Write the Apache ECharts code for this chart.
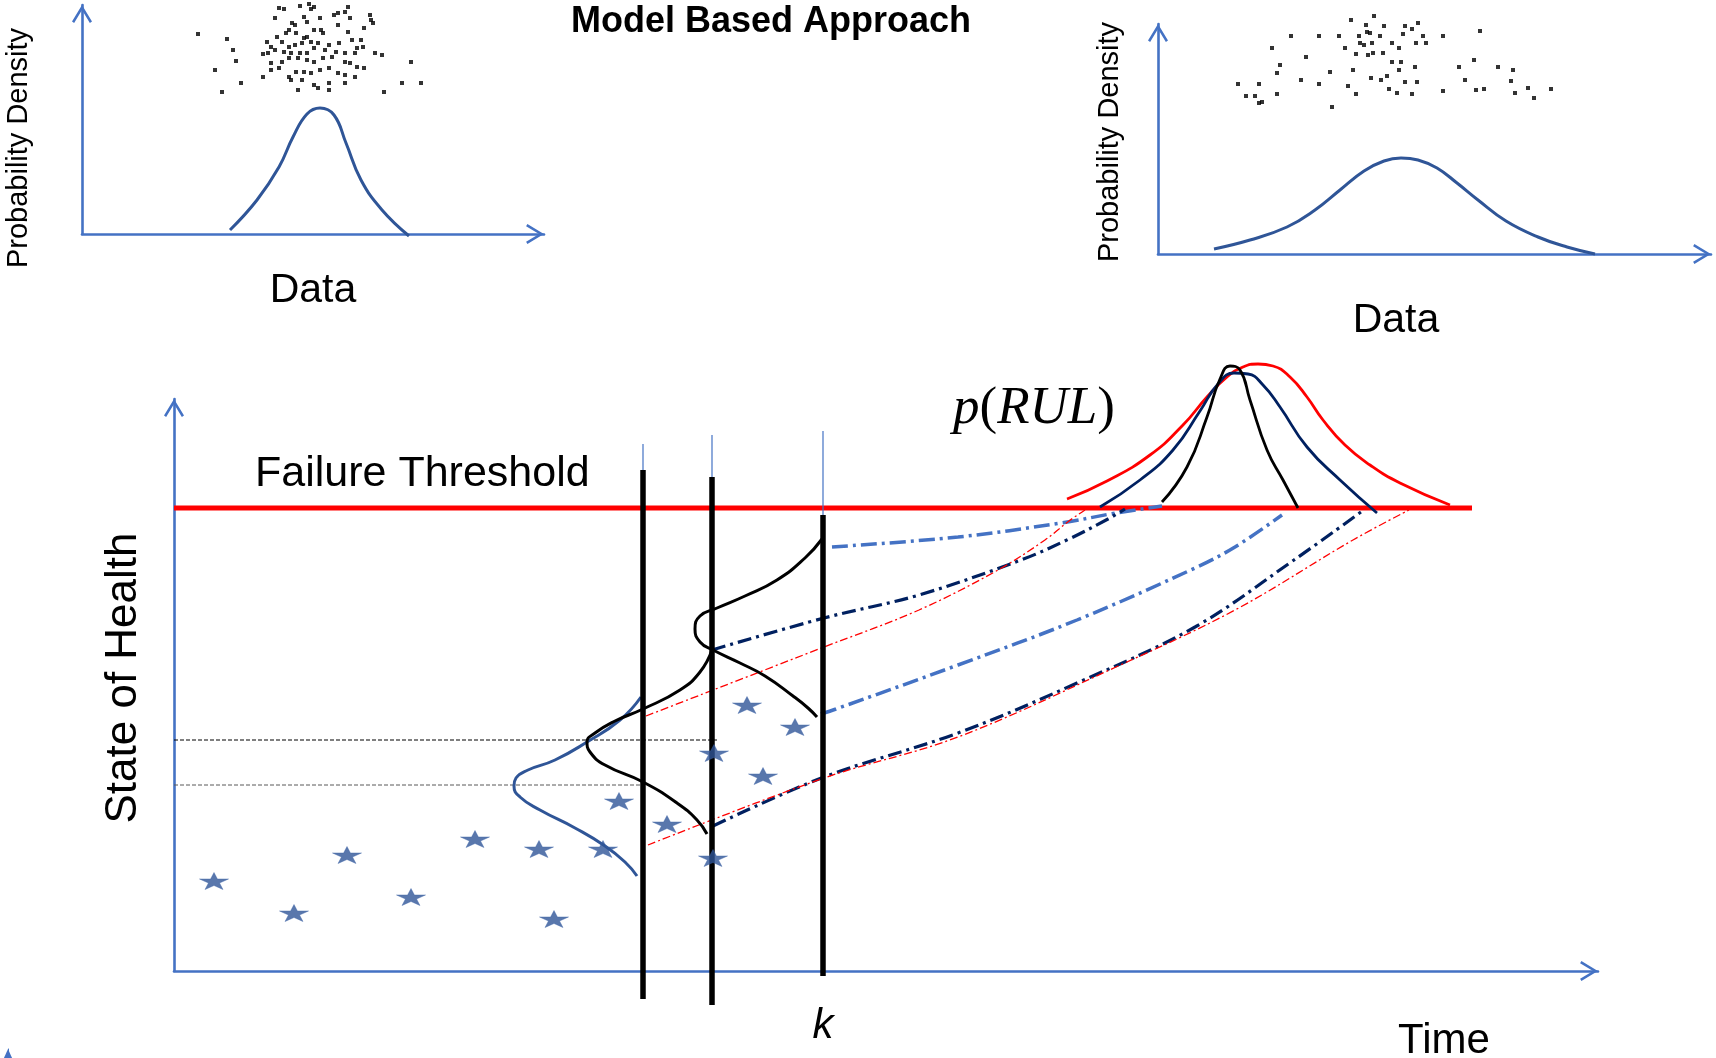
<!DOCTYPE html>
<html><head><meta charset="utf-8">
<script src="https://cdn.jsdelivr.net/npm/echarts@6/dist/echarts.min.js"></script>
<style>html,body{margin:0;padding:0;background:#fff}#c{width:1716px;height:1058px}</style>
</head><body><div id="c"></div>
<script>
// ---------- top-left panel (narrow distribution) ----------
const tlCurve = [[14.8,0.4],[17.5,3.4],[19.7,6.7],[21.1,9.7],[22.5,12.0],[23.8,12.6],[25.2,11.9],[26.4,9.1],[27.9,5.4],[30.0,2.4],[32.7,-0.2]];
const tlDots = [[11.6,20.0],[14.5,19.5],[15.1,18.4],[15.4,17.3],[13.3,16.4],[14.0,14.2],[15.9,15.1],[18.1,15.7],[18.5,19.2],[19.3,21.6],[19.7,22.6],[20.2,22.5],[20.7,20.4],[21.0,21.1],[21.3,20.9],[21.8,22.8],[22.7,23.0],[22.9,22.5],[23.2,22.7],[22.2,21.7],[22.5,21.2],[23.8,21.6],[25.2,21.9],[25.6,22.1],[26.3,22.2],[26.6,22.7],[26.8,21.6],[28.8,21.9],[28.9,21.4],[29.1,21.1],[28.2,20.6],[26.6,20.2],[25.6,20.9],[23.9,20.4],[24.1,20.1],[23.2,20.4],[22.5,19.7],[22.2,19.6],[21.4,20.1],[20.4,20.1],[19.5,19.7],[18.9,18.7],[20.0,19.2],[20.7,18.7],[21.3,18.9],[22.0,19.1],[22.9,19.2],[23.6,19.1],[24.7,18.9],[25.7,19.1],[27.0,19.4],[27.9,19.4],[28.1,18.7],[27.5,18.6],[27.3,18.1],[26.3,18.1],[25.4,18.2],[24.3,18.4],[23.2,18.6],[22.5,18.1],[21.8,18.1],[20.9,18.1],[20.2,18.2],[19.3,18.4],[18.6,18.1],[18.1,18.0],[18.9,17.1],[20.0,17.2],[20.7,17.6],[21.6,17.6],[22.5,17.4],[23.2,17.2],[24.1,17.6],[25.0,17.7],[26.3,17.2],[26.8,17.1],[27.5,16.7],[28.2,16.6],[27.3,15.7],[26.3,15.9],[25.6,16.1],[24.7,16.6],[23.8,16.4],[22.9,16.1],[22.2,16.2],[21.4,16.2],[20.7,15.7],[20.9,15.4],[22.0,15.4],[23.2,14.9],[23.6,14.6],[24.7,14.4],[24.7,15.1],[26.3,15.1],[21.6,14.4],[29.3,18.1],[30.0,17.9],[32.9,17.2],[30.2,14.2],[32.0,15.1],[33.9,15.1],[18.9,16.4],[19.7,16.6]];

// ---------- top-right panel (wide distribution) ----------
const trCurve = [[5.6,0.5],[9.2,1.4],[12.9,2.7],[15.7,4.4],[18.2,6.4],[20.6,8.3],[22.6,9.3],[24.3,9.6],[26.0,9.4],[27.9,8.6],[29.9,7.1],[32.0,5.4],[34.8,3.3],[38.0,1.7],[40.9,0.7],[43.7,0.0]];
const trDots = [[8.0,17.0],[8.8,15.8],[10.1,17.0],[9.7,15.8],[10.1,15.1],[10.4,15.2],[11.4,20.6],[11.9,16.0],[11.9,18.1],[12.2,18.9],[13.3,21.8],[14.3,17.4],[14.8,19.7],[16.1,21.8],[16.1,17.0],[17.2,18.2],[17.4,14.7],[18.1,21.8],[18.7,20.6],[19.0,16.8],[19.3,23.4],[19.5,18.4],[19.8,16.0],[20.1,21.8],[20.2,21.1],[20.6,20.9],[20.8,22.9],[20.9,22.2],[21.2,22.1],[21.0,19.9],[21.3,17.6],[21.5,20.1],[21.6,23.8],[22.2,21.8],[22.3,17.4],[22.5,20.1],[22.6,22.8],[22.9,17.8],[23.1,16.5],[23.4,21.1],[23.9,16.1],[24.1,18.4],[24.1,20.6],[24.5,22.0],[24.7,22.8],[24.3,19.2],[24.7,17.2],[25.4,22.5],[25.4,16.0],[25.7,18.7],[25.8,21.1],[26.0,23.1],[25.9,17.2],[26.5,21.8],[26.8,21.1],[28.5,21.8],[28.5,16.3],[30.1,18.7],[30.7,17.4],[31.6,19.4],[31.8,16.4],[32.2,22.3],[32.6,16.5],[34.0,18.7],[35.3,17.3],[35.5,18.4],[35.7,16.1],[37.0,16.6],[37.6,15.6],[39.3,16.5],[19.8,20.0],[21.4,21.1],[23.4,19.2]];

// ---------- main panel: state of health vs time ----------
const thresholdLevel = 46.3;
const thresholdSpan = [0, 129.8];
const measureTimes = [46.9, 53.8, 64.9];
const measureTop = [50.1, 49.4, 45.6];
const measureBottom = [-2.8, -3.4, -0.5];
const markerTop = [52.7, 53.6, 54.0];
const pdfLevels = [23.1, 18.6];
const pdfLevelEnds = [54.3, 46.9];

const stars = [[4.0,9.0],[12.0,5.8],[17.3,11.6],[23.7,7.4],[30.1,13.2],[36.5,12.2],[38.0,5.2],[42.9,12.2],[44.5,17.0],[49.3,14.7],[53.9,11.3],[54.0,21.8],[57.3,26.6],[58.9,19.5],[62.1,24.4]];

const pdfA = [[46.7,27.4],[44.6,25.1],[41.3,22.9],[38.1,21.1],[35.4,20.1],[34.2,19.3],[34.0,18.5],[34.6,17.4],[36.6,16.1],[40.1,14.3],[43.1,12.5],[45.1,10.9],[46.3,9.5]];
const pdfB = [[53.8,32.1],[52.6,29.9],[50.6,28.1],[46.9,26.2],[44.1,25.0],[42.1,23.8],[41.3,22.9],[41.6,21.9],[43.1,20.6],[46.9,18.9],[50.3,16.8],[52.3,15.1],[53.3,13.7]];
const pdfC = [[64.8,43.2],[63.1,41.3],[60.3,39.1],[57.1,37.5],[54.3,36.3],[52.6,35.5],[52.1,34.2],[52.6,32.9],[53.9,32.1],[56.6,30.8],[59.1,29.5],[61.9,27.5],[63.4,26.3],[64.3,25.4]];

const rulRed = [[89.3,47.2],[93.3,49.0],[97.6,51.6],[100.9,54.6],[103.3,57.4],[105.3,59.4],[106.9,60.4],[108.4,60.7],[109.9,60.5],[111.6,59.4],[113.3,57.4],[114.9,55.1],[117.1,52.6],[119.6,50.6],[122.6,48.8],[127.6,46.6]];
const rulNavy = [[92.6,46.4],[96.6,49.1],[99.9,52.1],[102.6,56.0],[104.4,58.7],[106.0,59.8],[107.4,59.7],[108.9,58.6],[110.6,56.4],[113.3,52.4],[116.6,49.1],[120.3,45.8]];
const rulBlack = [[98.8,46.9],[101.3,50.4],[103.3,55.4],[104.6,59.2],[105.6,60.5],[106.6,60.1],[107.6,57.1],[109.3,52.1],[110.9,49.1],[112.4,46.3]];

const traj1 = [[65.8,42.4],[78.4,43.4],[88.7,44.8],[94.2,45.8],[98.8,46.5]];
const traj2 = [[53.8,32.1],[65.0,35.3],[74.5,37.6],[84.7,41.1],[89.5,43.2],[93.4,45.2],[95.1,46.2]];
const traj3 = [[47.2,25.5],[65.0,32.4],[74.5,36.1],[82.4,40.1],[87.1,43.1],[89.5,45.0],[91.1,46.1]];
const traj4 = [[64.7,25.7],[66.2,26.2],[78.4,30.6],[90.3,35.1],[102.1,40.3],[106.1,42.4],[110.8,45.6]];
const traj5 = [[53.9,14.5],[65.0,19.4],[78.4,23.8],[90.3,28.8],[102.1,34.4],[112.0,41.1],[118.7,45.9]];
const traj6 = [[47.4,12.6],[65.0,19.3],[78.4,23.4],[94.2,30.4],[106.1,36.1],[117.9,43.1],[123.5,46.1]];

// ---------- styling ----------
const AX = '#4472C4';
const arrowPath = 'path://M0,16.5L10,0L20,16.5L17.86,17.8L10,4.83L2.14,17.8Z';
const starPath = 'path://M50,0L61.23,34.55L97.55,34.55L68.16,55.9L79.39,90.45L50,69.1L20.61,90.45L31.84,55.9L2.45,34.55L38.77,34.55Z';
const SANS = 'Liberation Sans';

function axis(gridIndex, max) {
  return {
    type: 'value', gridIndex: gridIndex, min: 0, max: max,
    axisLine: { show: true, onZero: true, symbol: ['none', arrowPath], symbolSize: [20, 18], symbolOffset: [0, -9],
      lineStyle: { color: AX, width: 2.6 } },
    axisTick: { show: false }, axisLabel: { show: false }, splitLine: { show: false }
  };
}
function line(data, gi, color, width, type, smooth, z) {
  return { type: 'line', xAxisIndex: gi, yAxisIndex: gi, data: data, showSymbol: false, symbol: 'none',
    smooth: smooth, clip: false, z: z, silent: true, animation: false,
    lineStyle: { color: color, width: width, type: type || 'solid', cap: 'butt' } };
}

const series = [];
// top panels
series.push({ type: 'scatter', xAxisIndex: 0, yAxisIndex: 0, data: tlDots, symbol: 'rect', symbolSize: 4,
  itemStyle: { color: '#000' }, clip: false, silent: true, animation: false });
series.push(line(tlCurve, 0, '#2F5597', 3, 'solid', 0.45, 3));
series.push({ type: 'scatter', xAxisIndex: 1, yAxisIndex: 1, data: trDots, symbol: 'rect', symbolSize: 4,
  itemStyle: { color: '#000' }, clip: false, silent: true, animation: false });
series.push(line(trCurve, 1, '#2F5597', 3, 'solid', 0.45, 3));

// main panel
series.push(line([[thresholdSpan[0], thresholdLevel], [thresholdSpan[1], thresholdLevel]], 2, '#FF0000', 5, 'solid', false, 2));
series.push(line([[0, pdfLevels[0]], [pdfLevelEnds[0], pdfLevels[0]]], 2, '#000000', 1, [4, 2], false, 2));
series.push(line([[0, pdfLevels[1]], [pdfLevelEnds[1], pdfLevels[1]]], 2, '#595959', 1, [4, 2], false, 2));

series.push(line(traj1, 2, '#4472C4', 3.5, [16, 5, 3, 5], 0.35, 3));
series.push(line(traj4, 2, '#4472C4', 3.5, [16, 5, 3, 5], 0.35, 3));
series.push(line(traj2, 2, '#002060', 3.2, [14, 5, 3, 5], 0.35, 3));
series.push(line(traj5, 2, '#002060', 3.2, [14, 5, 3, 5], 0.35, 3));
series.push(line(traj3, 2, '#FF0000', 1.3, [8, 3, 2, 3], 0.35, 3));
series.push(line(traj6, 2, '#FF0000', 1.3, [8, 3, 2, 3], 0.35, 3));

series.push(line(pdfA, 2, '#2F5597', 3, 'solid', 0.5, 4));
series.push(line(pdfB, 2, '#000000', 3, 'solid', 0.5, 4));
series.push(line(pdfC, 2, '#000000', 3, 'solid', 0.5, 4));

series.push(line(rulRed, 2, '#FF0000', 2.8, 'solid', 0.5, 4));
series.push(line(rulNavy, 2, '#002060', 2.8, 'solid', 0.5, 4));
series.push(line(rulBlack, 2, '#000000', 2.8, 'solid', 0.5, 4));

measureTimes.forEach(function (t, i) {
  series.push(line([[t, markerTop[i]], [t, measureTop[i]]], 2, '#4472C4', 1.2, 'solid', false, 5));
  series.push(line([[t, measureTop[i]], [t, measureBottom[i]]], 2, '#000000', 5.5, 'solid', false, 6));
});

series.push({ type: 'scatter', xAxisIndex: 2, yAxisIndex: 2, data: stars, symbol: starPath, symbolSize: [29, 17],
  symbolKeepAspect: false, itemStyle: { color: '#2F5597', borderColor: '#3C63A8', borderWidth: 0.5 },
  clip: false, z: 7, silent: true, animation: false });

function txt(text, x, y, size, opts) {
  opts = opts || {};
  return { type: 'text', x: x, y: y, rotation: opts.rot || 0, z: 100, silent: true,
    style: { text: text, fill: '#000', fontFamily: opts.family || SANS, fontSize: size,
      fontWeight: opts.weight || 'normal', fontStyle: opts.style || 'normal',
      align: opts.align || 'center', verticalAlign: 'middle' } };
}

const option = {
  backgroundColor: '#fff',
  animation: false,
  grid: [
    { left: 82, top: 5, width: 462, height: 229 },
    { left: 1158, top: 24, width: 553, height: 230 },
    { left: 174, top: 399, width: 1424, height: 572 },
    { left: 8, top: 1049, width: 1, height: 30 }
  ],
  xAxis: [axis(0, 46.2), axis(1, 55.3), axis(2, 142.4),
    { type: 'value', gridIndex: 3, min: 0, max: 1, show: false }],
  yAxis: [axis(0, 22.9), axis(1, 23.0), axis(2, 57.2),
    { type: 'value', gridIndex: 3, min: 0, max: 1,
      axisLine: { show: true, symbol: ['none', 'triangle'], symbolSize: [9, 10], symbolOffset: [0, -5], lineStyle: { color: AX, width: 1 } },
      axisTick: { show: false }, axisLabel: { show: false }, splitLine: { show: false } }],
  series: series,
  graphic: [
    txt('Model Based Approach', 771, 22, 36, { weight: 'bold' }),
    txt('Probability Density', 19, 148, 29, { rot: Math.PI / 2 }),
    txt('Data', 313, 291, 41),
    txt('Probability Density', 1110, 142, 29, { rot: Math.PI / 2 }),
    txt('Data', 1396, 321, 41),
    txt('Failure Threshold', 255, 474, 43, { align: 'left' }),
    txt('State of Health', 124, 678, 44, { rot: Math.PI / 2 }),
    { type: 'text', x: 1034, y: 409, z: 100, silent: true,
      style: { text: '{i|p}{n|(}{i|RUL}{n|)}', align: 'center', verticalAlign: 'middle', fill: '#000',
        rich: { i: { fontFamily: 'Liberation Serif', fontStyle: 'italic', fontSize: 53, fill: '#000' },
                n: { fontFamily: 'Liberation Serif', fontSize: 53, fill: '#000' } } } },
    txt('k', 823, 1026, 42, { style: 'italic' }),
    txt('Time', 1444, 1041, 42)
  ]
};

const chart = echarts.init(document.getElementById('c'), null, { renderer: 'canvas' });
chart.setOption(option);
</script>
</body></html>
